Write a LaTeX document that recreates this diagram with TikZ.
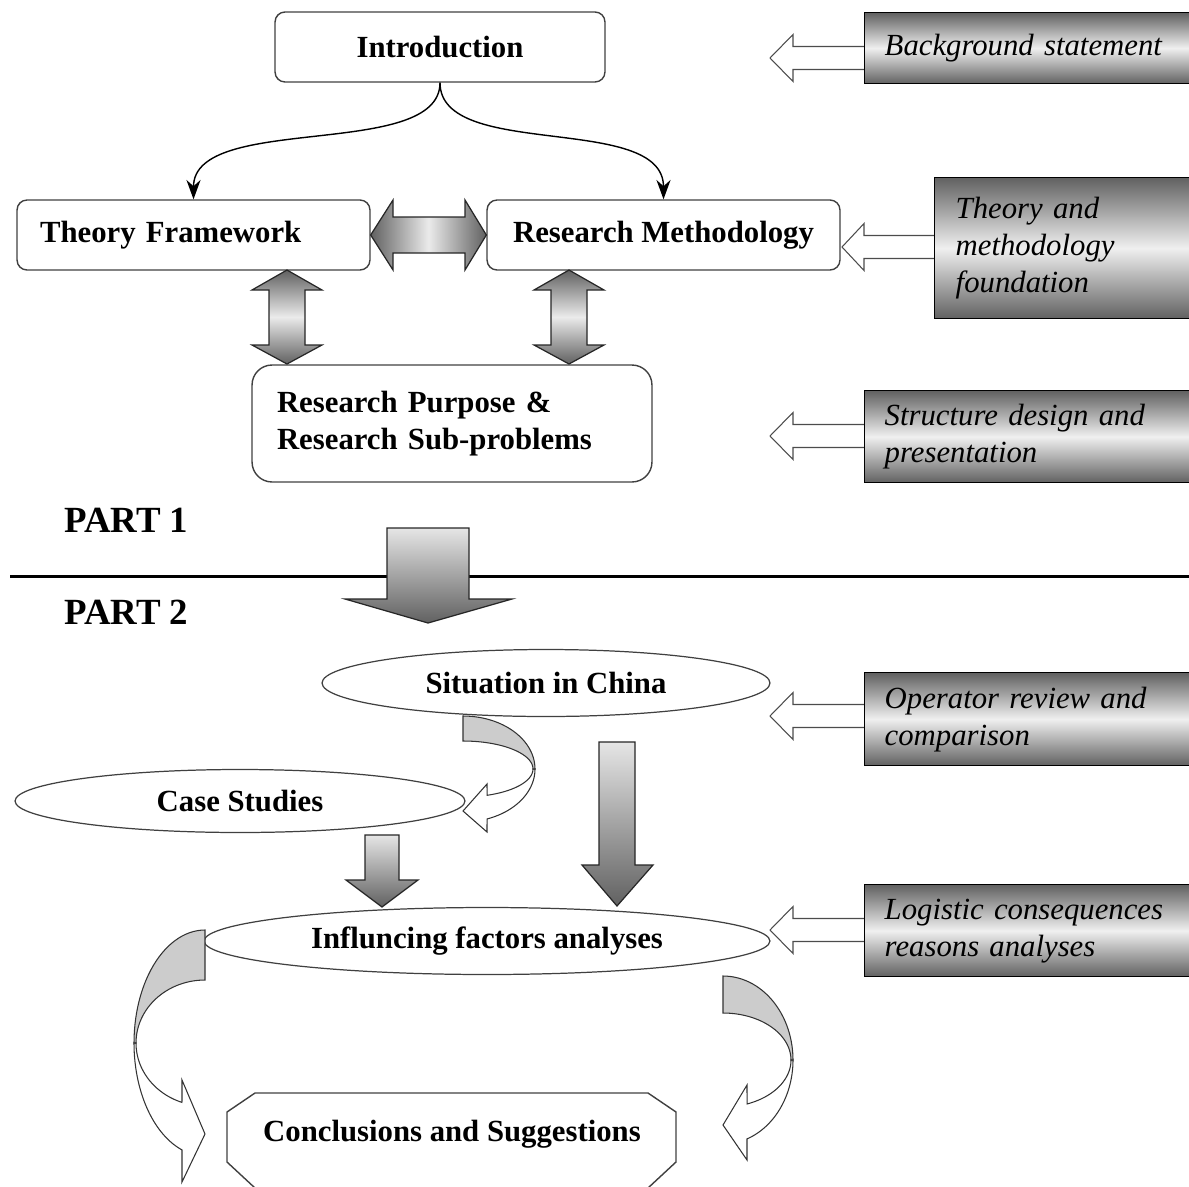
\documentclass[tikz,border=0pt]{standalone}
\usepackage{fontspec}
\setmainfont{Liberation Serif}
\usetikzlibrary{arrows.meta,shapes.geometric}
% hollow block arrow pointing left: tip x, tip y, neck x, tail x
\newcommand\hollowleft[4]{%
  \draw[hollow] (#1,#2) -- (#3,{#2-23.5}) -- (#3,{#2-11.5}) -- (#4,{#2-11.5})
    -- (#4,{#2+11.5}) -- (#3,{#2+11.5}) -- (#3,{#2+23.5}) -- cycle;}
\begin{document}
\begin{tikzpicture}[x=0.02cm,y=-0.02cm,
  txt/.style={font=\fontsize{17.5}{21}\selectfont\bfseries},
  ital/.style={font=\fontsize{17.5}{21}\selectfont\itshape},
  part/.style={font=\fontsize{21}{24}\selectfont\bfseries,anchor=west,inner sep=0pt},
  rbox/.style={draw=black!75,line width=0.8pt,rounded corners=0.2cm,txt,inner sep=0pt},
  oval/.style={ellipse,draw=black!75,line width=0.7pt,txt,inner sep=0pt},
  note/.style={draw=black,line width=0.8pt,top color=black!62,bottom color=black!62,
    middle color=black!6,ital,anchor=north west,align=left,inner ysep=0pt},
  hollow/.style={draw=black!70,fill=white,line width=0.6pt,line join=miter},
  blockv/.style={draw=black!85,line width=0.7pt,top color=black!10,bottom color=black!62},
  dblv/.style={draw=black!85,line width=0.7pt,top color=black!62,bottom color=black!62,middle color=black!8},
  dblh/.style={draw=black!85,line width=0.7pt,left color=black!62,right color=black!62,middle color=black!8},
  back/.style={draw=black!80,line width=0.6pt,fill=black!20},
  front/.style={draw=black!80,line width=0.6pt,fill=white},
  link/.style={-{Stealth[length=11pt,width=8pt]},line width=0.8pt}
]
\useasboundingbox (0,0) rectangle (1189,1186);

% ---------- part 1 ----------
\node[rbox,minimum width=6.6cm,minimum height=1.4cm] (intro) at (440,47) {Introduction};
\node[rbox,minimum width=7.06cm,minimum height=1.4cm,text width=6.14cm,inner xsep=0.46cm,align=left] (tf) at (193.5,235) {Theory Framework};
\node[rbox,minimum width=7.06cm,minimum height=1.4cm] (rm) at (663.5,235) {Research Methodology};
\node[rbox,rounded corners=0.4cm,minimum width=8cm,minimum height=2.34cm,text width=7cm,inner xsep=0.5cm,align=left] (rp) at (452,423.5) {Research Purpose \&\\Research Sub-problems};

\draw[link] (intro.south) .. controls +(0,78) and +(0,-87) .. (tf.north);
\draw[link] (intro.south) .. controls +(0,78) and +(0,-87) .. (rm.north);

% two-way block arrows
\draw[dblh] (tf.east) -- (393,200) -- (393,217) -- (465,217) -- (465,200) -- (rm.west)
  -- (465,270) -- (465,253) -- (393,253) -- (393,270) -- cycle;
\draw[dblv] (287,270) -- (322,290) -- (305,290) -- (305,345) -- (322,345) -- (287,364)
  -- (252,345) -- (269,345) -- (269,290) -- (252,290) -- cycle;
\draw[dblv] (569,270) -- (604,290) -- (587,290) -- (587,345) -- (604,345) -- (569,364)
  -- (534,345) -- (551,345) -- (551,290) -- (534,290) -- cycle;

% side notes
\hollowleft{770}{58}{793}{866}
\hollowleft{842}{247}{864}{936}
\hollowleft{770}{436}{793}{866}
\hollowleft{770}{716}{793}{866}
\hollowleft{770}{930}{793}{866}
\node[note,minimum width=6.6cm,minimum height=1.42cm,text width=5.8cm,inner xsep=0.4cm] (n1) at (864,12) {Background statement};
\node[note,minimum width=5.2cm,minimum height=2.82cm,text width=4.36cm,inner xsep=0.42cm] (n2) at (934,177) {Theory and\\methodology\\foundation};
\node[note,minimum width=6.6cm,minimum height=1.84cm,text width=5.8cm,inner xsep=0.4cm] (n3) at (864,390) {Structure design and\\presentation};
\node[note,minimum width=6.6cm,minimum height=1.86cm,text width=5.8cm,inner xsep=0.4cm] (n4) at (864,672) {Operator review and\\comparison};
\node[note,minimum width=6.6cm,minimum height=1.84cm,text width=5.8cm,inner xsep=0.4cm] (n5) at (864,884) {Logistic consequences\\reasons analyses};

% ---------- divider ----------
\node[part] (p1) at (64,520) {PART 1};
\node[part] (p2) at (64,612) {PART 2};
\coordinate (ruleL) at (10,576);
\coordinate (ruleR) at (1189,576);
\draw[line width=1.7pt] (ruleL) -- (ruleR);
\draw[blockv] (387,528) -- (469,528) -- (469,599) -- (512,599) -- (428,623) -- (345,599) -- (387,599) -- cycle;

% ---------- part 2 ----------
\node[oval,minimum width=8.96cm,minimum height=1.34cm] (china) at (546,683) {Situation in China};
\node[oval,minimum width=9cm,minimum height=1.26cm] (cases) at (240,801) {Case Studies};
\node[oval,minimum width=11.32cm,minimum height=1.34cm] (factors) at (487,941) {Influncing factors analyses};

\draw[blockv] (365,835) -- (399,835) -- (399,880) -- (418,880) -- (382,907) -- (346,880) -- (365,880) -- cycle;
\draw[blockv] (599,742) -- (635,742) -- (635,865) -- (653,865) -- (617,906) -- (582,865) -- (599,865) -- cycle;

% curved arrow from the situation to the case studies
\draw[front] plot[domain=0:70.5,samples=30,variable=\t] ({463+72*cos(\t)},{769+53*sin(\t)})
  -- (487,832) -- (463,811) -- (487,784)
  -- plot[domain=69.9:0,samples=30,variable=\t] ({463+70*cos(\t)},{769+28*sin(\t)}) -- cycle;
\draw[back] plot[domain=-90:0,samples=30,variable=\t] ({463+72*cos(\t)},{769+53*sin(\t)})
  -- plot[domain=0:-90,samples=30,variable=\t] ({463+70*cos(\t)},{769+28*sin(\t)}) -- cycle;

% curved arrows down to the conclusions
\draw[front] plot[domain=0:71.1,samples=30,variable=\t] ({205-71*cos(\t)},{1043+113*sin(\t)})
  -- (182,1182) -- (205,1134) -- (182,1080)
  -- plot[domain=70.5:0,samples=30,variable=\t] ({205-69*cos(\t)},{1043+63*sin(\t)}) -- cycle;
\draw[back] plot[domain=-90:0,samples=30,variable=\t] ({205-71*cos(\t)},{1043+113*sin(\t)})
  -- plot[domain=0:-90,samples=30,variable=\t] ({205-69*cos(\t)},{1043+63*sin(\t)}) -- cycle;

\draw[front] plot[domain=0:69.95,samples=30,variable=\t] ({723+70*cos(\t)},{1060+84*sin(\t)})
  -- (747,1160) -- (723,1125) -- (747,1085)
  -- plot[domain=69.3:0,samples=30,variable=\t] ({723+68*cos(\t)},{1060+47*sin(\t)}) -- cycle;
\draw[back] plot[domain=-90:0,samples=30,variable=\t] ({723+70*cos(\t)},{1060+84*sin(\t)})
  -- plot[domain=0:-90,samples=30,variable=\t] ({723+68*cos(\t)},{1060+47*sin(\t)}) -- cycle;

% conclusions
\draw[draw=black!75,line width=0.8pt] (255,1093) -- (648,1093) -- (676,1112) -- (676,1162)
  -- (648,1188) -- (255,1188) -- (227,1162) -- (227,1112) -- cycle;
\node[txt,inner sep=0pt] (concl) at (452,1134) {Conclusions and Suggestions};
\end{tikzpicture}
\end{document}
